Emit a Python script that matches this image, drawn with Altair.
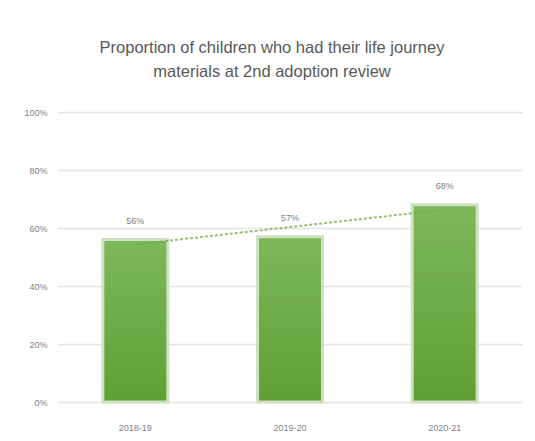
import altair as alt
import pandas as pd

years = ["2018-19", "2019-20", "2020-21"]
idx = [1, 2, 3]
values = [0.56, 0.57, 0.68]
labels = ["56%", "57%", "68%"]
y_ticks = [0, 0.2, 0.4, 0.6, 0.8, 1.0]

df = pd.DataFrame({"year": years, "idx": idx, "value": values, "label": labels})

FONT = "Liberation Sans"
GRAY = "#7f7f7f"

base = alt.Chart(df)

x_enc = alt.X(
    "year:N",
    sort=years,
    title=None,
    scale=alt.Scale(paddingInner=0.58, paddingOuter=0.29),
    axis=alt.Axis(labelAngle=0, ticks=False, domain=False, labelPadding=21,
                  labelFontSize=9, labelColor=GRAY, labelFont=FONT, grid=False),
)
y_enc = alt.Y(
    "value:Q",
    title=None,
    scale=alt.Scale(domain=[0, 1]),
    axis=alt.Axis(values=y_ticks, format=".0%", ticks=False, domain=False,
                  labelPadding=11, labelFontSize=9, labelColor=GRAY, labelFont=FONT,
                  gridColor="#e3e3e3", gridWidth=1.5),
)

bars = base.mark_bar(
    color=alt.Gradient(
        gradient="linear",
        stops=[alt.GradientStop(color="#7db85a", offset=0),
               alt.GradientStop(color="#5fa034", offset=1)],
        x1=0, x2=0, y1=0, y2=1,
    ),
    stroke="#cfe0c3",
    strokeWidth=3,
).encode(x=x_enc, y=y_enc)

text = base.mark_text(dy=-19, fontSize=9, color=GRAY, font=FONT).encode(
    x=alt.X("year:N", sort=years), y="value:Q", text="label:N"
)

trend = base.transform_regression("idx", "value", method="linear").transform_calculate(
    year="['2018-19','2019-20','2020-21'][round(datum.idx) - 1]"
).mark_line(color="#70ad47", strokeDash=[3, 2], strokeWidth=2, opacity=0.75).encode(
    x=alt.X("year:N", sort=years), y="value:Q"
)

chart = alt.layer(bars, trend, text).properties(
    width=464,
    height=290,
    padding={"left": 50, "top": 104, "right": 4, "bottom": 31},
    autosize=alt.AutoSizeParams(type="none"),
    background="white",
    title=alt.TitleParams(
        text=["Proportion of children who had their life journey",
              "materials at 2nd adoption review"],
        fontSize=16.5, font=FONT, color="#595959", fontWeight="normal",
        lineHeight=24, offset=28, dx=-18, anchor="middle",
    ),
).configure_view(stroke=None)

chart.save("out.html", embed_options={"renderer": "svg", "actions": False})
